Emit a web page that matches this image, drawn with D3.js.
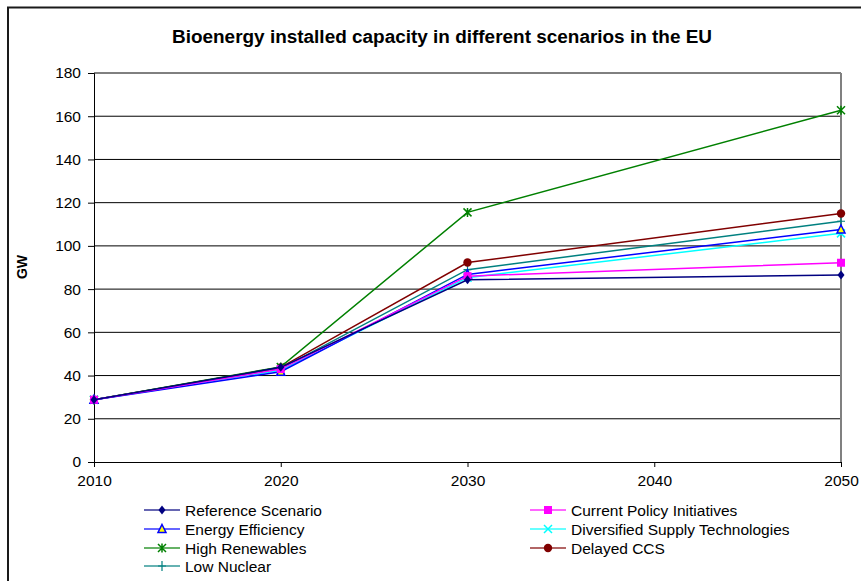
<!DOCTYPE html>
<html>
<head>
<meta charset="utf-8">
<script src="https://cdn.jsdelivr.net/npm/d3@7/dist/d3.min.js"></script>
<style>
  html, body { margin: 0; padding: 0; background: #fff; }
  svg { display: block; font-family: Arial, "Liberation Sans", sans-serif; }
</style>
</head>
<body>
<svg id="chart" width="861" height="581"></svg>
<script>
const years = [2010, 2020, 2030, 2050];
const xTicks = [2010, 2020, 2030, 2040, 2050];
const yTicks = [0, 20, 40, 60, 80, 100, 120, 140, 160, 180];

const referenceScenario = [28.8, 43.8, 84.3, 86.5];
const currentPolicy     = [28.8, 43.0, 86.0, 92.2];
const energyEfficiency  = [28.8, 41.8, 86.8, 107.6];
const diversifiedSupply = [28.8, 42.5, 85.3, 105.8];
const highRenewables    = [28.8, 44.0, 115.5, 162.8];
const delayedCCS        = [28.8, 43.8, 92.3, 115.0];
const lowNuclear        = [28.8, 43.2, 89.0, 111.4];

const seriesNames = ["Reference Scenario", "Current Policy Initiatives", "Energy Efficiency",
  "Diversified Supply Technologies", "High Renewables", "Delayed CCS", "Low Nuclear"];
const seriesValues = [referenceScenario, currentPolicy, energyEfficiency, diversifiedSupply,
  highRenewables, delayedCCS, lowNuclear];
const seriesColors = ["#000080", "#FF00FF", "#0000FF", "#00FFFF", "#008000", "#800000", "#008080"];
const seriesMarkers = ["diamond", "square", "triangle", "x", "asterisk", "circle", "plus"];

const svg = d3.select("#chart");
const plot = { left: 94, right: 841, top: 73, bottom: 462 };
const FONT = "Arial, 'Liberation Sans', sans-serif";

const x = d3.scaleLinear().domain([2010, 2050]).range([plot.left, plot.right]);
const y = d3.scaleLinear().domain([0, 180]).range([plot.bottom, plot.top]);

// outer frame
svg.append("rect").attr("x", 8).attr("y", 7.5).attr("width", 870).attr("height", 600)
  .attr("fill", "none").attr("stroke", "#1a1a1a").attr("stroke-width", 2);

// title
svg.append("text").attr("x", 442).attr("y", 43).attr("text-anchor", "middle")
  .attr("font-size", 18).attr("font-weight", "bold")
  .attr("textLength", 540).attr("lengthAdjust", "spacingAndGlyphs")
  .text("Bioenergy installed capacity in different scenarios in the EU");

// gridlines
svg.append("g").selectAll("line").data(yTicks.filter(d => d > 0)).join("line")
  .attr("x1", plot.left).attr("x2", plot.right)
  .attr("y1", d => y(d)).attr("y2", d => y(d))
  .attr("stroke", "#000").attr("stroke-width", 1);

// right plot border
svg.append("line").attr("x1", plot.right).attr("x2", plot.right)
  .attr("y1", plot.top).attr("y2", plot.bottom)
  .attr("stroke", "#808080").attr("stroke-width", 2);

// y axis
const yAxis = d3.axisLeft(y).tickValues(yTicks).tickSize(6).tickPadding(7).tickFormat(d3.format("d"));
const gy = svg.append("g").attr("transform", `translate(${plot.left},0)`).call(yAxis);
gy.select(".domain").attr("stroke", "#000");
gy.selectAll("line").attr("stroke", "#000");
gy.selectAll("text").attr("font-size", 15.5).attr("fill", "#000").attr("font-family", FONT);

// x axis
const xAxis = d3.axisBottom(x).tickValues(xTicks).tickSize(5).tickPadding(8).tickFormat(d3.format("d"));
const gx = svg.append("g").attr("transform", `translate(0,${plot.bottom})`).call(xAxis);
gx.select(".domain").attr("stroke", "#000");
gx.selectAll("line").attr("stroke", "#000");
gx.selectAll("text").attr("font-size", 15.5).attr("fill", "#000").attr("font-family", FONT);

// y label
svg.append("text").attr("transform", "translate(27,267) rotate(-90)")
  .attr("text-anchor", "middle").attr("font-size", 14).attr("font-weight", "bold").text("GW");

function drawMarker(g, type, color, cx, cy) {
  const s = 4;
  if (type === "diamond") {
    g.append("path").attr("d", `M${cx},${cy - 4.5}L${cx + 3.5},${cy}L${cx},${cy + 4.5}L${cx - 3.5},${cy}Z`).attr("fill", color);
  } else if (type === "square") {
    g.append("rect").attr("x", cx - 4).attr("y", cy - 4).attr("width", 8).attr("height", 8).attr("fill", color);
  } else if (type === "triangle") {
    g.append("path").attr("d", `M${cx},${cy - 4.5}L${cx + 4},${cy + 3.5}L${cx - 4},${cy + 3.5}Z`)
      .attr("fill", "#FFFF00").attr("stroke", color).attr("stroke-width", 1.5);
  } else if (type === "x") {
    g.append("path").attr("d", `M${cx - s},${cy - s}L${cx + s},${cy + s}M${cx - s},${cy + s}L${cx + s},${cy - s}`)
      .attr("stroke", color).attr("stroke-width", 1.5);
  } else if (type === "asterisk") {
    g.append("path").attr("d", `M${cx - s},${cy - s}L${cx + s},${cy + s}M${cx - s},${cy + s}L${cx + s},${cy - s}M${cx},${cy - s - 0.5}L${cx},${cy + s + 0.5}`)
      .attr("stroke", color).attr("stroke-width", 1.5);
  } else if (type === "circle") {
    g.append("circle").attr("cx", cx).attr("cy", cy).attr("r", 4.2).attr("fill", color);
  } else if (type === "plus") {
    g.append("path").attr("d", `M${cx - 4},${cy}L${cx + 4},${cy}M${cx},${cy - 5}L${cx},${cy + 5}`)
      .attr("stroke", color).attr("stroke-width", 1.2);
  }
}

const line = d3.line().x((d, i) => x(years[i])).y(d => y(d));
const drawOrder = [6, 5, 4, 3, 2, 1, 0];
drawOrder.forEach(k => {
  const g = svg.append("g");
  g.append("path").datum(seriesValues[k]).attr("d", line)
    .attr("fill", "none").attr("stroke", seriesColors[k]).attr("stroke-width", 1.5);
  seriesValues[k].forEach((v, i) => drawMarker(g, seriesMarkers[k], seriesColors[k], x(years[i]), y(v)));
});

// legend
const legendPos = [
  [144, 510], [530, 510],
  [144, 529], [530, 529],
  [144, 548], [530, 548],
  [144, 566]
];
seriesNames.forEach((name, k) => {
  const [lx, ly] = legendPos[k];
  const g = svg.append("g");
  g.append("line").attr("x1", lx).attr("x2", lx + 36).attr("y1", ly).attr("y2", ly)
    .attr("stroke", seriesColors[k]).attr("stroke-width", 1.5).attr("opacity", 0.8);
  drawMarker(g, seriesMarkers[k], seriesColors[k], lx + 18, ly);
  g.append("text").attr("x", lx + 41).attr("y", ly + 5.5).attr("font-size", 15.5).attr("fill", "#000")
    .attr("font-family", FONT).text(name);
});
</script>
</body>
</html>
